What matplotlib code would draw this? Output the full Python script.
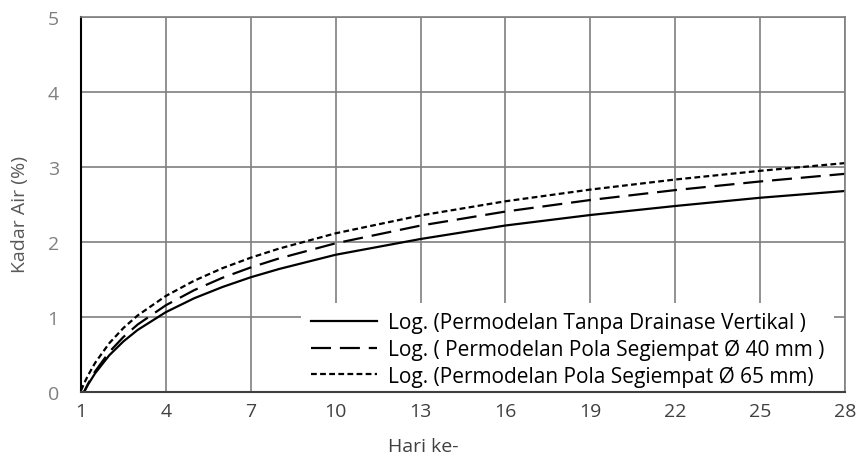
import numpy as np
import matplotlib.pyplot as plt

# Hari ke- (titik baca dari grafik)
hari = [1, 1.1, 1.25, 1.5, 2, 2.5, 3, 4, 5, 6, 7, 8, 10, 13, 16, 19, 22, 25, 28]

# Kadar air (%) tiap garis tren
tanpa_drainase = [-0.085, -0.006, 0.10, 0.25, 0.49, 0.675, 0.827, 1.065, 1.25, 1.40,
                  1.53, 1.64, 1.83, 2.04, 2.22, 2.36, 2.48, 2.59, 2.68]
segiempat_40 = [-0.09, -0.004, 0.111, 0.275, 0.534, 0.734, 0.899, 1.157, 1.358, 1.523,
                1.661, 1.781, 1.983, 2.219, 2.406, 2.56, 2.692, 2.807, 2.909]
segiempat_65 = [0.02, 0.107, 0.223, 0.389, 0.651, 0.854, 1.02, 1.281, 1.484, 1.651,
                1.791, 1.912, 2.116, 2.354, 2.543, 2.699, 2.833, 2.949, 3.052]

label_tanpa = 'Log. (Permodelan Tanpa Drainase Vertikal )'
label_40 = 'Log. ( Permodelan Pola Segiempat Ø 40 mm )'
label_65 = 'Log. (Permodelan Pola Segiempat Ø 65 mm)'

xticks = [1, 4, 7, 10, 13, 16, 19, 22, 25, 28]
yticks = [0, 1, 2, 3, 4, 5]

plt.rcParams['font.family'] = ['Open Sans', 'DejaVu Sans']

fig = plt.figure(figsize=(8.59, 4.56), dpi=100)
ax = fig.add_axes([81 / 859, 1 - 393 / 456, 764 / 859, 375 / 456])

ax.plot(hari, tanpa_drainase, color='black', lw=1.6, label=label_tanpa)
ax.plot(hari, segiempat_40, color='black', lw=1.6, linestyle=(0, (9, 4)), label=label_40)
ax.plot(hari, segiempat_65, color='black', lw=1.6, linestyle=(0, (2.6, 1.5)), label=label_65)

ax.set_xlim(1, 28)
ax.set_ylim(0, 5)
ax.set_xticks(xticks)
ax.set_yticks(yticks)
ax.grid(True, color='#7f7f7f', lw=1.2)
ax.set_axisbelow(True)
ax.tick_params(length=0)
ax.tick_params(axis='x', labelsize=14, labelcolor='#404040', pad=7)
ax.tick_params(axis='y', labelsize=14, labelcolor='#7f7f7f', pad=16)

for s in ['top', 'right']:
    ax.spines[s].set_color('#7f7f7f')
    ax.spines[s].set_linewidth(1.2)
ax.spines['left'].set_color('black')
ax.spines['left'].set_linewidth(1.5)
ax.spines['bottom'].set_color('#404040')
ax.spines['bottom'].set_linewidth(1.5)

ax.set_xlabel('Hari ke-', fontsize=14, color='#404040')
ax.xaxis.set_label_coords(0.448, -0.119)
ax.set_ylabel('Kadar Air (%)', fontsize=14, color='#595959')
ax.yaxis.set_label_coords(-0.068, 0.475)

# kotak legenda putih menutupi grid, spines tetap di atasnya
leg = ax.legend(loc='lower right', bbox_to_anchor=(0.985, -0.011), fontsize=15,
                frameon=True, fancybox=False, framealpha=1, facecolor='white',
                edgecolor='none', handlelength=3.17, handletextpad=0.53,
                labelspacing=0.25, borderpad=0.45, borderaxespad=0)
leg.set_zorder(2.4)

plt.savefig('out.png', dpi=100)
plt.close()
